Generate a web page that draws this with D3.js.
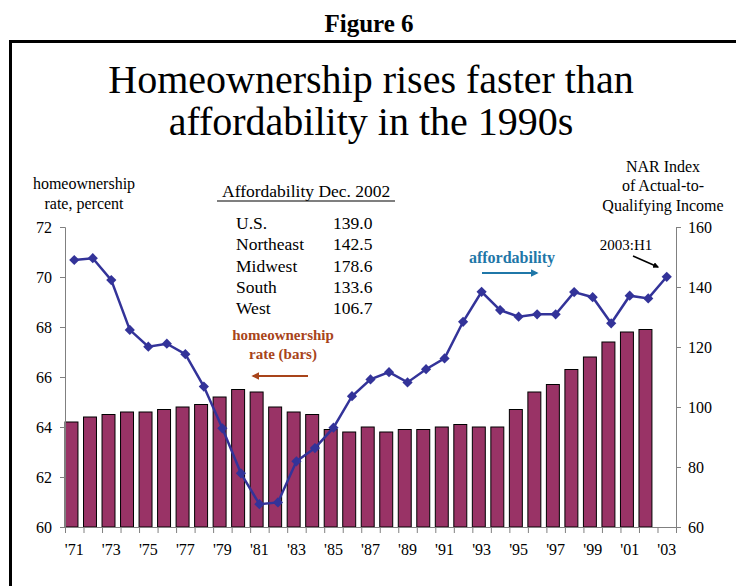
<!DOCTYPE html>
<html>
<head>
<meta charset="utf-8">
<script src="https://cdn.jsdelivr.net/npm/d3@7"></script>
<style>
  body { margin: 0; background: #fff; }
  svg { display: block; font-family: "Liberation Serif", "Times New Roman", serif; }
  .axis path, .axis line { stroke: #808080; }
  .axis text { font-family: "Liberation Serif", "Times New Roman", serif; font-size: 16px; fill: #000; }
</style>
</head>
<body>
<div id="chart"></div>
<script>
var width = 736;
var height = 586;
var margin = { top: 227, right: 60, bottom: 59, left: 65 };
var graphWidth = width - margin.left - margin.right;
var graphHeight = height - margin.top - margin.bottom;

// years 1971 .. 2003 (2003 = first half only)
var years = [1971, 1972, 1973, 1974, 1975, 1976, 1977, 1978, 1979, 1980,
  1981, 1982, 1983, 1984, 1985, 1986, 1987, 1988, 1989, 1990,
  1991, 1992, 1993, 1994, 1995, 1996, 1997, 1998, 1999, 2000,
  2001, 2002, 2003];

// homeownership rate, percent (bars, left axis)
var homeownership = [64.2, 64.4, 64.5, 64.6, 64.6, 64.7, 64.8, 64.9, 65.2, 65.5,
  65.4, 64.8, 64.6, 64.5, 63.9, 63.8, 64.0, 63.8, 63.9, 63.9,
  64.0, 64.1, 64.0, 64.0, 64.7, 65.4, 65.7, 66.3, 66.8, 67.4,
  67.8, 67.9, null];

// NAR affordability index (line, right axis)
var affordability = [149.0, 149.6, 142.3, 125.7, 120.1, 121.1, 117.6, 106.8, 92.9, 77.9,
  67.6, 68.2, 81.9, 86.3, 93.1, 103.6, 109.2, 111.6, 108.2, 112.6,
  116.2, 128.4, 138.4, 132.3, 130.1, 130.9, 130.9, 138.3, 136.6, 127.9,
  137.1, 136.2, 143.4];

var leftTicks = [60, 62, 64, 66, 68, 70, 72];
var rightTicks = [60, 80, 100, 120, 140, 160];

var tableRegions = ['U.S.', 'Northeast', 'Midwest', 'South', 'West'];
var tableValues = ['139.0', '142.5', '178.6', '133.6', '106.7'];

var svg = d3.select('#chart')
  .append('svg')
  .attr('width', width)
  .attr('height', height);

// arrow heads
var defs = svg.append('defs');
function arrowHead(id, color) {
  defs.append('marker')
    .attr('id', id)
    .attr('viewBox', '0 0 10 10')
    .attr('refX', 8)
    .attr('refY', 5)
    .attr('markerWidth', 4)
    .attr('markerHeight', 4)
    .attr('orient', 'auto')
    .append('path')
    .attr('d', 'M0,0 L10,5 L0,10 z')
    .attr('fill', color);
}
arrowHead('arrow-brown', '#a8441a');
arrowHead('arrow-blue', '#1f77a8');
arrowHead('arrow-black', '#000');

// frame
svg.append('path')
  .attr('d', 'M10.5,586 L10.5,41.5 L736,41.5')
  .attr('fill', 'none')
  .attr('stroke', '#000')
  .attr('stroke-width', 3);

svg.append('text')
  .attr('x', 369)
  .attr('y', 32)
  .attr('text-anchor', 'middle')
  .attr('font-size', 25)
  .attr('font-weight', 'bold')
  .text('Figure 6');

var title = svg.append('text')
  .attr('text-anchor', 'middle')
  .attr('font-size', 40);
title.append('tspan').attr('x', 371).attr('y', 93).text('Homeownership rises faster than');
title.append('tspan').attr('x', 371).attr('y', 135).text('affordability in the 1990s');

var graph = svg.append('g')
  .attr('transform', 'translate(' + margin.left + ',' + margin.top + ')');

// scales
var x = d3.scaleBand()
  .domain(years)
  .range([0, graphWidth]);
var xEdge = d3.scaleLinear()
  .domain([0, years.length])
  .range([0, graphWidth]);
var yLeft = d3.scaleLinear()
  .domain([60, 72])
  .range([graphHeight, 0]);
var yRight = d3.scaleLinear()
  .domain([60, 160])
  .range([graphHeight, 0]);

// bars (sit at the left part of each category slot)
var barData = years.map((y, i) => ({ year: y, value: homeownership[i] }))
  .filter(d => d.value != null);
graph.selectAll('rect.bar')
  .data(barData)
  .enter()
  .append('rect')
  .attr('class', 'bar')
  .attr('x', d => x(d.year))
  .attr('y', d => yLeft(d.value))
  .attr('width', x.bandwidth() * 0.7)
  .attr('height', d => graphHeight - yLeft(d.value))
  .attr('fill', '#993366')
  .attr('stroke', '#000')
  .attr('stroke-width', 1);

// axes
var xAxisTicks = graph.append('g')
  .attr('class', 'axis')
  .attr('transform', 'translate(0,' + graphHeight + ')')
  .call(d3.axisBottom(xEdge)
    .tickValues(d3.range(0, years.length + 1))
    .tickFormat('')
    .tickSizeOuter(0)
    .tickSize(6));

var xAxisLabels = graph.append('g')
  .attr('class', 'axis')
  .attr('transform', 'translate(0,' + graphHeight + ')')
  .call(d3.axisBottom(x)
    .tickSize(0)
    .tickPadding(17)
    .tickFormat(d => (d % 2 === 1 ? "'" + String(d).slice(2) : '')));
xAxisLabels.select('.domain').remove();

graph.append('g')
  .attr('class', 'axis')
  .call(d3.axisLeft(yLeft)
    .tickValues(leftTicks)
    .tickSize(5)
    .tickSizeOuter(5)
    .tickPadding(8));

graph.append('g')
  .attr('class', 'axis')
  .attr('transform', 'translate(' + graphWidth + ',0)')
  .call(d3.axisRight(yRight)
    .tickValues(rightTicks)
    .tickSize(5)
    .tickSizeOuter(5)
    .tickPadding(7));

// affordability line
var line = d3.line()
  .x((d, i) => x(years[i]) + x.bandwidth() / 2)
  .y(d => yRight(d));
graph.append('path')
  .datum(affordability)
  .attr('d', line)
  .attr('fill', 'none')
  .attr('stroke', '#333399')
  .attr('stroke-width', 2.5);

graph.selectAll('path.marker')
  .data(affordability)
  .enter()
  .append('path')
  .attr('class', 'marker')
  .attr('d', d3.symbol(d3.symbolSquare, 52))
  .attr('transform', (d, i) => 'translate(' + (x(years[i]) + x.bandwidth() / 2) + ',' + yRight(d) + ') rotate(45)')
  .attr('fill', '#333399');

// axis titles
var leftTitle = svg.append('text')
  .attr('text-anchor', 'middle')
  .attr('font-size', 16);
leftTitle.append('tspan').attr('x', 84).attr('y', 189).text('homeownership');
leftTitle.append('tspan').attr('x', 84).attr('y', 209).text('rate, percent');

var rightTitle = svg.append('text')
  .attr('text-anchor', 'middle')
  .attr('font-size', 16);
rightTitle.append('tspan').attr('x', 663).attr('y', 172).text('NAR Index');
rightTitle.append('tspan').attr('x', 663).attr('y', 191).text('of Actual-to-');
rightTitle.append('tspan').attr('x', 663).attr('y', 211).text('Qualifying Income');

// table
svg.append('text')
  .attr('x', 222)
  .attr('y', 197)
  .attr('font-size', 17.5)
  .text('Affordability Dec. 2002');
svg.append('line')
  .attr('x1', 217)
  .attr('x2', 395)
  .attr('y1', 201)
  .attr('y2', 201)
  .attr('stroke', '#000')
  .attr('stroke-width', 1.2);

var rows = svg.append('g').attr('font-size', 17.5);
tableRegions.forEach((r, i) => {
  rows.append('text').attr('x', 236).attr('y', 229 + i * 21.3).text(r);
  rows.append('text').attr('x', 333).attr('y', 229 + i * 21.3).text(tableValues[i]);
});

// annotations
var homeLabel = svg.append('text')
  .attr('text-anchor', 'middle')
  .attr('font-size', 15)
  .attr('font-weight', 'bold')
  .attr('fill', '#a8441a');
homeLabel.append('tspan').attr('x', 283).attr('y', 340).text('homeownership');
homeLabel.append('tspan').attr('x', 283).attr('y', 359).text('rate (bars)');
svg.append('line')
  .attr('x1', 308).attr('y1', 376)
  .attr('x2', 253).attr('y2', 376)
  .attr('stroke', '#a8441a')
  .attr('stroke-width', 2)
  .attr('marker-end', 'url(#arrow-brown)');

svg.append('text')
  .attr('x', 512)
  .attr('y', 263)
  .attr('text-anchor', 'middle')
  .attr('font-size', 16)
  .attr('font-weight', 'bold')
  .attr('fill', '#1f77a8')
  .text('affordability');
svg.append('line')
  .attr('x1', 482).attr('y1', 273)
  .attr('x2', 537).attr('y2', 273)
  .attr('stroke', '#1f77a8')
  .attr('stroke-width', 2)
  .attr('marker-end', 'url(#arrow-blue)');

svg.append('text')
  .attr('x', 626)
  .attr('y', 250)
  .attr('text-anchor', 'middle')
  .attr('font-size', 15)
  .text('2003:H1');
svg.append('line')
  .attr('x1', 633).attr('y1', 256)
  .attr('x2', 658).attr('y2', 267)
  .attr('stroke', '#000')
  .attr('stroke-width', 1.5)
  .attr('marker-end', 'url(#arrow-black)');
</script>
</body>
</html>
